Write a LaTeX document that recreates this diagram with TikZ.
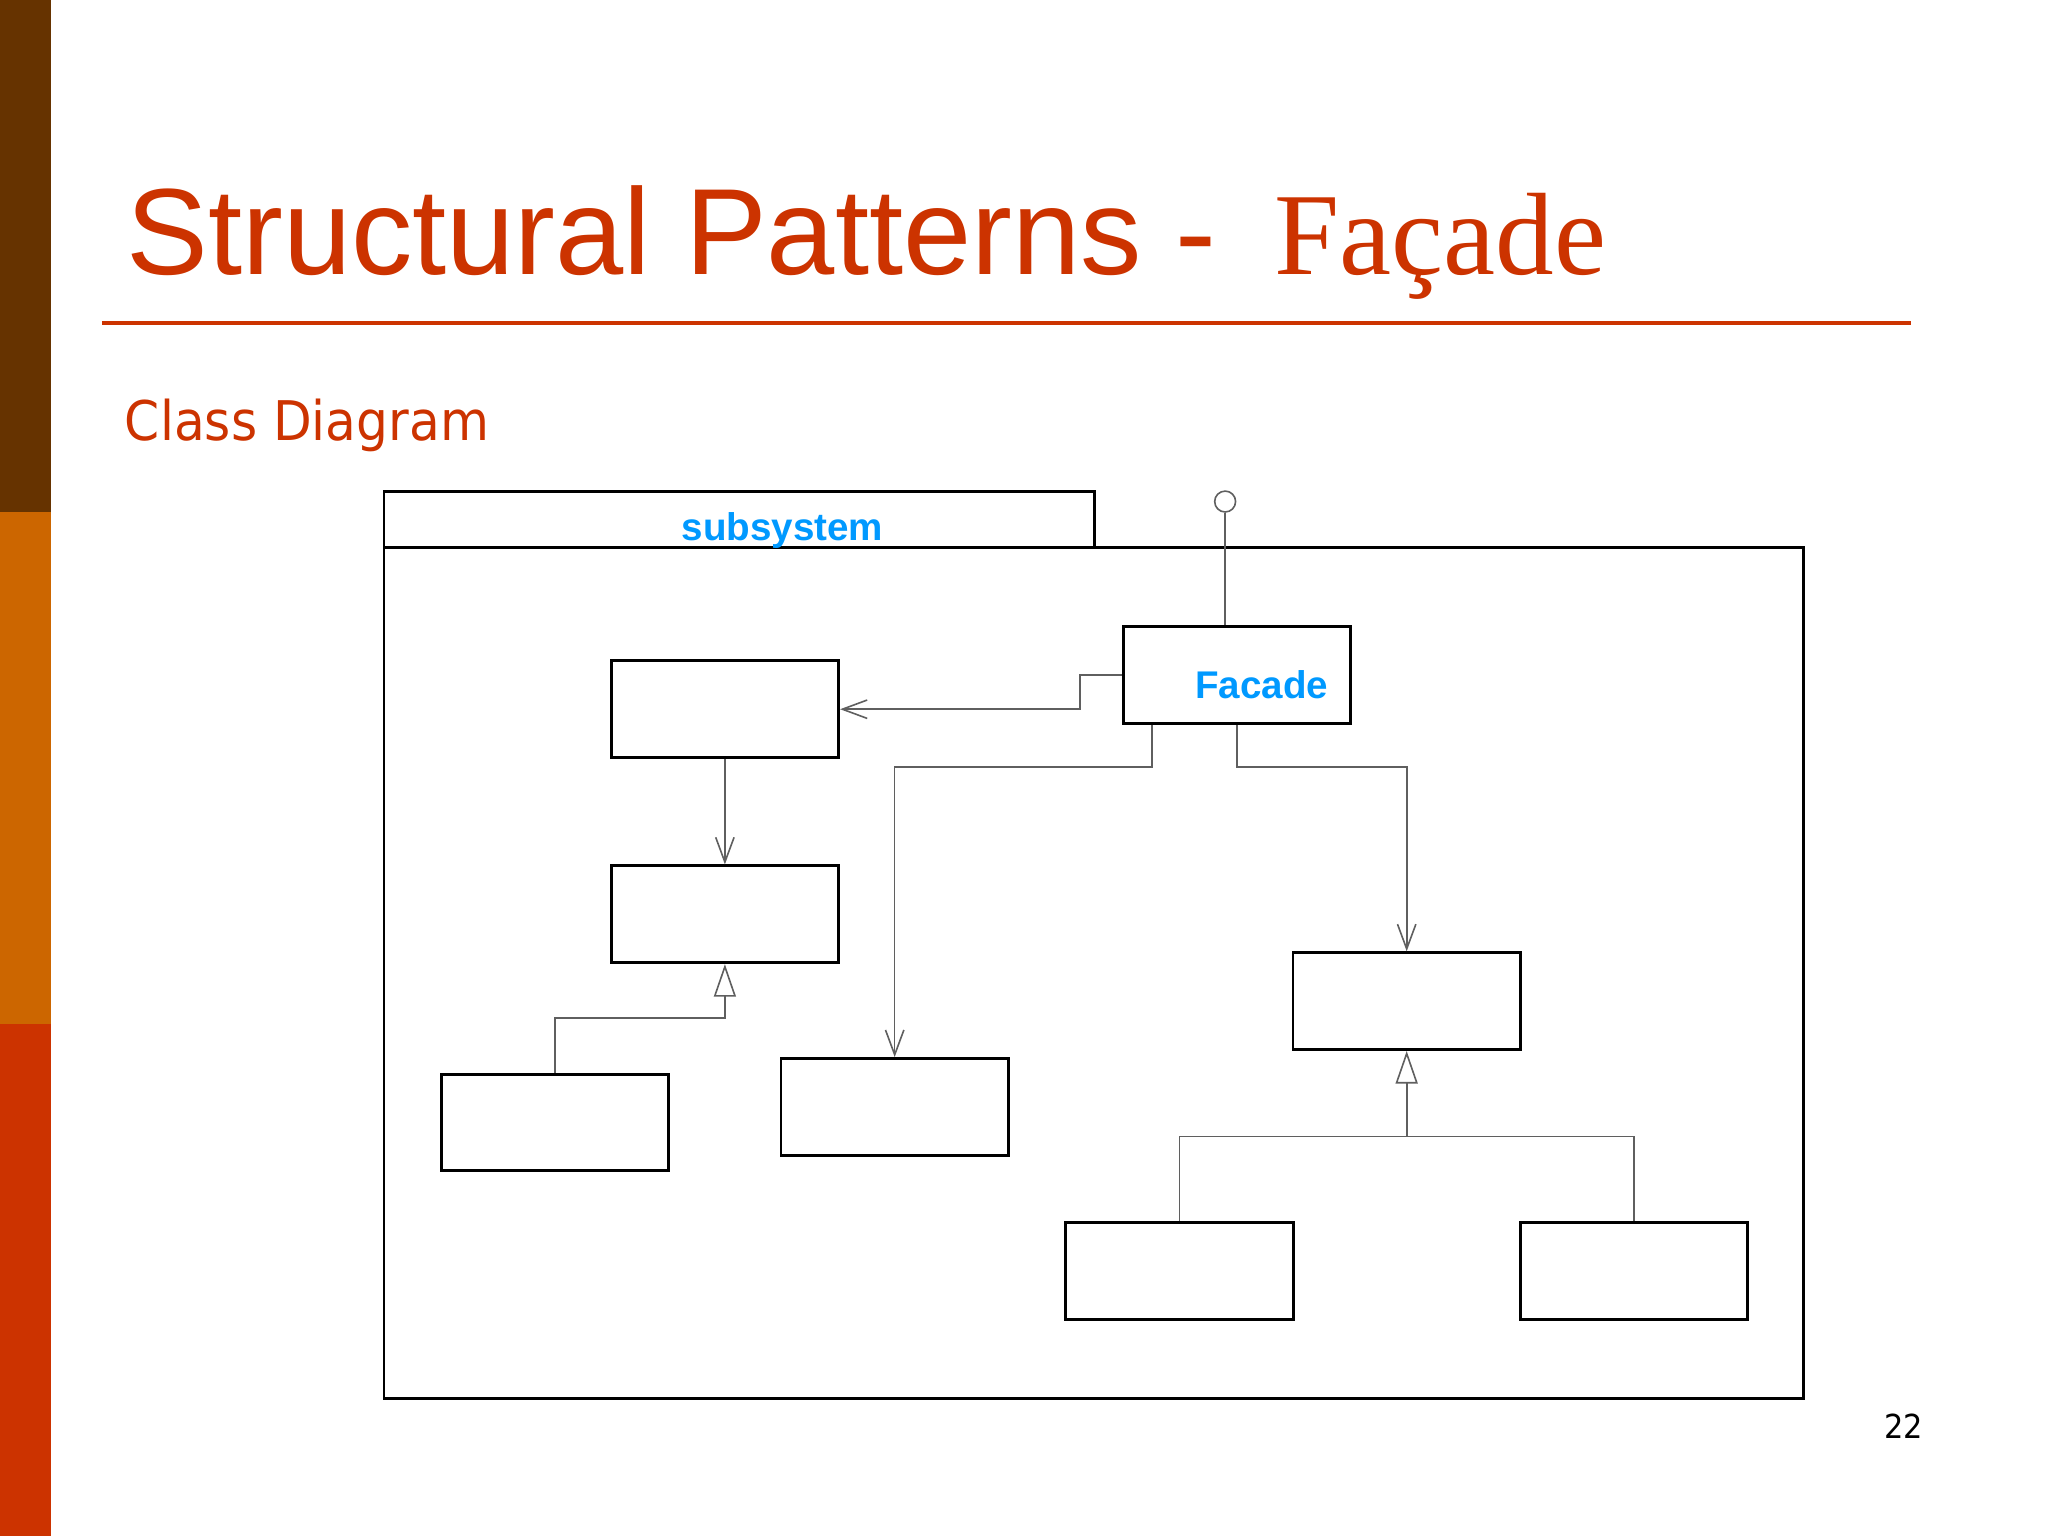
\documentclass[tikz,border=0pt]{standalone}
\usepackage{fontspec}
\setmainfont{Liberation Sans}
\newfontfamily\titleserif{Liberation Serif}
\newfontfamily\bodyfont[FakeStretch=0.92]{DejaVu Sans}
\usetikzlibrary{arrows.meta}
\definecolor{slidered}{RGB}{204,51,0}
\definecolor{slidebrown}{RGB}{102,51,0}
\definecolor{slideorange}{RGB}{204,102,0}
\definecolor{umlblue}{RGB}{0,153,255}
\definecolor{linkgray}{RGB}{95,95,95}
\begin{document}
\begin{tikzpicture}[x=0.01cm, y=-0.01cm]
  \tikzset{ cls/.style={draw,line width=0.65pt,minimum width=1.74cm,minimum height=0.74cm,inner sep=0pt},
    nm/.style={umlblue,font=\bfseries\fontsize{8.4}{10}\selectfont,inner sep=0pt},
    ln/.style={linkgray,line width=0.35pt},
    assoc/.style={ln,-{Straight Barb[length=5.4pt,width=4pt]}},
    gen/.style={ln,-{Triangle[open,fill=white,length=7.1pt,width=4.8pt]}},
  }
  \useasboundingbox (0,0) rectangle (1568,1176);

  \fill[slidebrown] (0,0) rectangle (39,392);
  \fill[slideorange] (0,392) rectangle (39,784);
  \fill[slidered] (0,784) rectangle (39,1176);

  \node[slidered,anchor=base west,inner sep=0pt,font=\fontsize{26.7}{32}\selectfont] (title) at (96,210) {Structural Patterns -};
  \node[slidered,anchor=base west,inner sep=0pt,font=\titleserif\fontsize{25.5}{30}\selectfont] (titlefc) at (975,210) {Façade};
  \draw[slidered,line width=0.85pt] (78,247) -- (1463,247);
  \node[slidered,anchor=base west,inner sep=0pt,font=\bodyfont\fontsize{11.9}{14}\selectfont] (sub) at (95,337) {Class Diagram};
  \node[anchor=base east,inner sep=0pt,font=\bodyfont\fontsize{7.2}{9}\selectfont] (page) at (1473,1101) {22};

  % package frame
  \draw[line width=0.65pt] (294,419) rectangle (838,376);
  \draw[line width=0.65pt] (294,419) rectangle (1381,1071);
  \node[nm,anchor=base] (pkg) at (599,414) {subsystem};

  % classes
  \node[cls] (fac) at (947,517) {};
  \node[nm,anchor=base] (facname) at (966,535) {Facade};
  \node[cls] (A) at (555,543) {};
  \node[cls] (B) at (555,700) {};
  \node[cls] (C) at (425,859.5) {};
  \node[cls] (D) at (685,847.5) {};
  \node[cls] (E) at (1077,766.5) {};
  \node[cls] (F) at (903,973) {};
  \node[cls] (G) at (1251,973) {};

  % interface
  \node[ln,draw,circle,minimum size=0.16cm,inner sep=0pt] (iface) at (938,384) {};
  \draw[ln] (iface) -- (iface |- fac.north);

  \draw[assoc] (fac.west) -- ++(-32,0) |- (A.east);
  \draw[assoc] (A) -- (B);
  \draw[assoc] ([xshift=-0.65cm]fac.south) -- ++(0,32) -| (D.north);
  \draw[assoc] (fac.south) -- ++(0,32) -| (E.north);

  \draw[gen] (C.north) -- ++(0,-42) -| (B.south);
  \coordinate (jE) at (1077,870);
  \draw[ln] (F.north) |- (jE) -| (G.north);
  \draw[gen] (jE) -- (E.south);
\end{tikzpicture}
\end{document}
